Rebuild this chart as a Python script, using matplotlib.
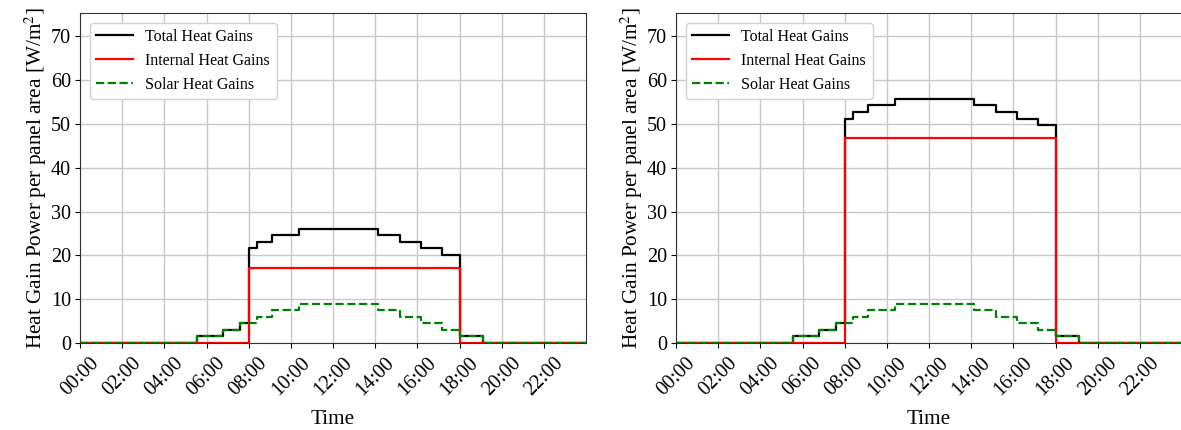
import matplotlib
matplotlib.use("Agg")
import matplotlib.pyplot as plt
import pandas as pd

# ---------------- data ----------------
step_times = ["00:00", "05:32", "06:46", "07:35", "08:00", "08:23", "09:07", "10:23",
              "14:09", "15:11", "16:10", "17:11", "18:00", "19:08", "24:00"]

solar_gains = [0, 1.5, 3.0, 4.5, 4.5, 6.0, 7.5, 9.0, 7.5, 6.0, 4.5, 3.0, 1.5, 0, 0]

internal_left = [0, 0, 0, 0, 17.15, 17.15, 17.15, 17.15, 17.15, 17.15, 17.15, 17.15, 0, 0, 0]
total_left = [0, 1.5, 3.0, 4.5, 21.6, 23.15, 24.6, 26.05, 24.6, 23.15, 21.6, 20.1, 1.5, 0, 0]

internal_right = [0, 0, 0, 0, 46.7, 46.7, 46.7, 46.7, 46.7, 46.7, 46.7, 46.7, 0, 0, 0]
total_right = [0, 1.5, 3.0, 4.5, 51.2, 52.7, 54.2, 55.7, 54.2, 52.7, 51.2, 49.7, 1.5, 0, 0]

series_labels = ["Total Heat Gains", "Internal Heat Gains", "Solar Heat Gains"]
y_ticks = [0, 10, 20, 30, 40, 50, 60, 70]
x_tick_labels = ["00:00", "02:00", "04:00", "06:00", "08:00", "10:00",
                 "12:00", "14:00", "16:00", "18:00", "20:00", "22:00"]

# ---------------- style ----------------
plt.rcParams["font.family"] = ["Liberation Serif", "DejaVu Serif"]
plt.rcParams["mathtext.fontset"] = "stix"

base = pd.Timestamp("2023-01-01")


def to_time(s):
    h, m = s.split(":")
    return base + pd.Timedelta(minutes=int(h) * 60 + int(m))


x = [to_time(t) for t in step_times]
x_ticks = [to_time(t) for t in x_tick_labels]

fig = plt.figure(figsize=(11.81, 4.30), dpi=100)
W, H = 1181, 430
panels = [
    (80, total_left, internal_left),
    (676, total_right, internal_right),
]

for left_px, total, internal in panels:
    ax = fig.add_axes([left_px / W, (H - 343) / H, 506 / W, 330 / H])
    ax.step(x, total, where="post", color="black", lw=1.6, label=series_labels[0])
    ax.step(x, internal, where="post", color="red", lw=1.6, label=series_labels[1])
    ax.step(x, solar_gains, where="post", color="green", lw=1.6, ls="--",
            label=series_labels[2])

    ax.set_xlim(to_time("00:00"), to_time("24:00"))
    ax.set_ylim(0, 75.3)
    ax.set_yticks(y_ticks)
    ax.set_xticks(x_ticks)
    ax.set_xticklabels(x_tick_labels, rotation=45)
    ax.tick_params(axis="both", labelsize=14.5, pad=3)
    ax.tick_params(axis="x", pad=4)
    ax.grid(True, color="#c8c8c8", lw=1.0)
    ax.set_axisbelow(True)
    for sp in ax.spines.values():
        sp.set_color("#333333")
    ax.set_xlabel("Time", fontsize=15.3, labelpad=8)
    ax.set_ylabel("Heat Gain Power per panel area [W/m$^2$]", fontsize=15.3, labelpad=1)
    ax.legend(loc="upper left", fontsize=11.5, framealpha=1.0, edgecolor="#d0d0d0",
              handlelength=2.3, labelspacing=0.5, borderaxespad=0.6)

fig.savefig("out.png", dpi=100)
